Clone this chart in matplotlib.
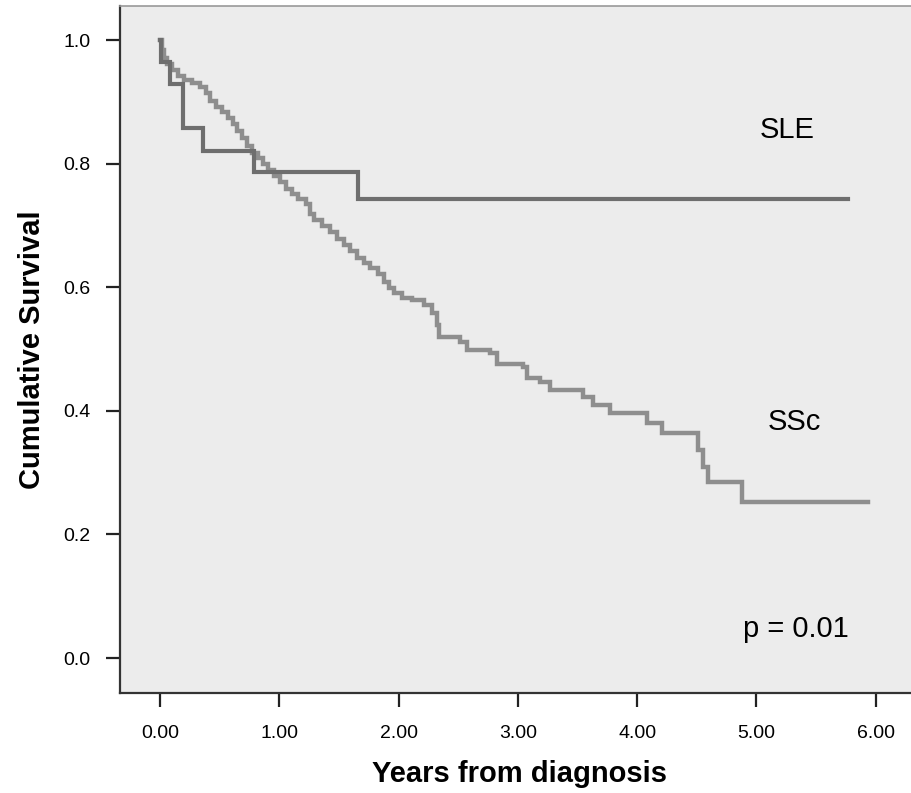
import matplotlib
matplotlib.use('Agg')
from matplotlib import pyplot as plt
import numpy as np

# SLE Kaplan-Meier steps (years, survival after the drop)
sle_t = [0.0, 0.01, 0.085, 0.195, 0.36, 0.79, 1.66, 5.77]
sle_s = [1.0, 0.964, 0.929, 0.857, 0.821, 0.786, 0.743, 0.743]

# SSc Kaplan-Meier steps
ssc_t = [0.0, 0.017, 0.034, 0.059, 0.101, 0.151, 0.201, 0.268, 0.335, 0.386,
         0.419, 0.469, 0.520, 0.570, 0.612, 0.645, 0.687, 0.729, 0.771, 0.821,
         0.863, 0.905, 0.956, 1.006, 1.056, 1.106, 1.157, 1.224, 1.257, 1.291,
         1.358, 1.425, 1.484, 1.542, 1.593, 1.651, 1.710, 1.760, 1.827, 1.878,
         1.920, 1.961, 2.028, 2.112, 2.213, 2.280, 2.322, 2.339, 2.515, 2.573,
         2.766, 2.825, 3.043, 3.076, 3.185, 3.269, 3.546, 3.629, 3.772, 4.082,
         4.208, 4.510, 4.552, 4.593, 4.878, 5.935]
ssc_s = [1.0, 0.984, 0.971, 0.961, 0.951, 0.942, 0.935, 0.930, 0.924, 0.914,
         0.901, 0.892, 0.883, 0.874, 0.864, 0.853, 0.841, 0.828, 0.817, 0.809,
         0.799, 0.790, 0.780, 0.770, 0.759, 0.751, 0.743, 0.735, 0.718, 0.709,
         0.699, 0.689, 0.678, 0.668, 0.659, 0.647, 0.639, 0.631, 0.621, 0.608,
         0.599, 0.591, 0.583, 0.579, 0.571, 0.558, 0.539, 0.519, 0.511, 0.498,
         0.494, 0.476, 0.471, 0.453, 0.447, 0.434, 0.422, 0.409, 0.396, 0.380,
         0.364, 0.337, 0.309, 0.285, 0.252, 0.252]

x_ticks = [0, 1, 2, 3, 4, 5, 6]
x_labels = ['0.00', '1.00', '2.00', '3.00', '4.00', '5.00', '6.00']
y_ticks = [0.0, 0.2, 0.4, 0.6, 0.8, 1.0]
y_labels = ['0.0', '0.2', '0.4', '0.6', '0.8', '1.0']

plt.rcParams['font.family'] = ['Liberation Sans', 'DejaVu Sans']

fig = plt.figure(figsize=(9.12, 7.93), dpi=100)
ax = fig.add_axes([0.1316, 0.1261, 0.877, 0.8663])
ax.set_facecolor('#ececec')

ax.step(ssc_t, ssc_s, where='post', color='#8e8e8e', lw=3.2, solid_joinstyle='miter')
ax.step(sle_t, sle_s, where='post', color='#6e6e6e', lw=3.0, solid_joinstyle='miter')

ax.set_xlim(-0.335, 6.37)
ax.set_ylim(-0.0566, 1.055)

ax.set_xticks(x_ticks)
ax.set_xticklabels(x_labels)
ax.set_yticks(y_ticks)
ax.set_yticklabels(y_labels)
ax.tick_params(axis='both', length=10, width=1.6, labelsize=14, color='#222222')
ax.tick_params(axis='x', pad=13)
ax.tick_params(axis='y', pad=11)

for s in ['left', 'bottom']:
    ax.spines[s].set_linewidth(1.6)
    ax.spines[s].set_color('#333333')
ax.spines['top'].set_linewidth(1.2)
ax.spines['top'].set_color('#999999')
ax.spines['right'].set_visible(False)

lab_font = dict(family=['Liberation Sans', 'DejaVu Sans'],
                fontweight='bold', fontsize=21)
ax.set_xlabel('Years from diagnosis', labelpad=13, **lab_font)
ax.set_ylabel('Cumulative Survival', labelpad=13, **lab_font)

ax.text(5.26, 0.854, 'SLE', fontsize=21, ha='center', va='center')
ax.text(5.32, 0.382, 'SSc', fontsize=21, ha='center', va='center')
ax.text(5.33, 0.047, 'p = 0.01', fontsize=21, ha='center', va='center')

fig.savefig('out.png', dpi=100)
